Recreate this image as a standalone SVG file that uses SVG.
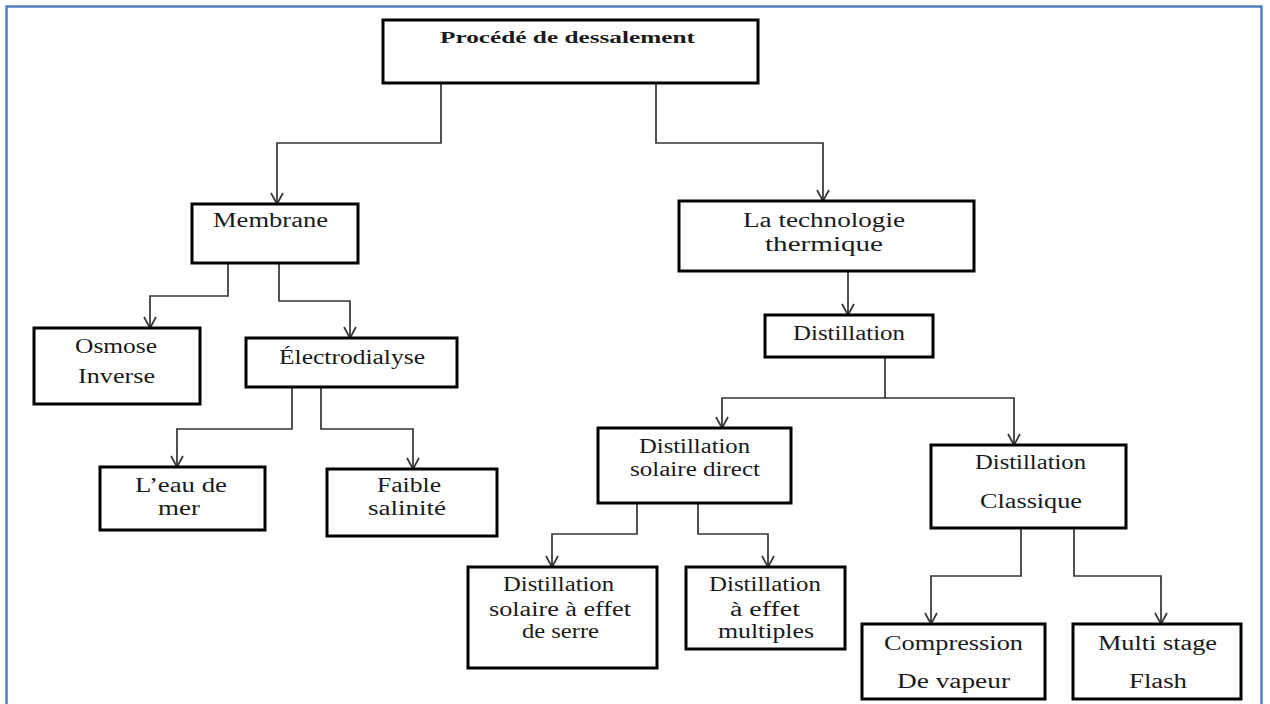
<svg xmlns="http://www.w3.org/2000/svg" width="1270" height="704" viewBox="0 0 1270 704">
<defs>
<style>
.box{fill:#fff;stroke:#000;stroke-width:3}
.t{font-family:"Liberation Serif","Times New Roman",serif;font-size:20px;fill:#1a1a1a}
.b{font-weight:bold;font-size:17.5px}
.c{fill:none;stroke:#333;stroke-width:1.7;marker-end:url(#arr)}
</style>
<marker id="arr" markerUnits="userSpaceOnUse" markerWidth="16" markerHeight="16" viewBox="0 0 16 16" refX="14" refY="8" orient="auto">
<path d="M3,2 L14,8 L3,14" fill="none" stroke="#333" stroke-width="1.7"/>
</marker>
</defs>
<rect x="0" y="0" width="1270" height="704" fill="#fff"/>
<rect x="6.5" y="6.5" width="1255" height="740" fill="none" stroke="#4f81bd" stroke-width="2.5"/>
<g id="connectors">
<path class="c" d="M441,83 V143 H277 V204"/>
<path class="c" d="M656,83 V143 H823 V201"/>
<path class="c" d="M228,263 V296 H150 V328"/>
<path class="c" d="M279,263 V301 H350 V338"/>
<path class="c" d="M292,387 V429 H177 V467"/>
<path class="c" d="M321,387 V429 H413 V469"/>
<path class="c" d="M848,271 V315"/>
<path class="c" d="M885,357 V398 H722 V428"/>
<path class="c" d="M885,398 H1014 V445"/>
<path class="c" d="M637,503 V534 H552 V567"/>
<path class="c" d="M698,503 V534 H768 V567"/>
<path class="c" d="M1021,528 V576 H931 V624"/>
<path class="c" d="M1074,528 V576 H1161 V624"/>
</g>
<g id="root">
<rect class="box" x="383" y="20" width="375" height="63"/>
<text class="t b" x="440" y="43" textLength="255" lengthAdjust="spacingAndGlyphs">Procédé de dessalement</text>
</g>
<g id="membrane">
<rect class="box" x="192" y="204" width="166" height="59"/>
<text class="t" x="213" y="227" textLength="115" lengthAdjust="spacingAndGlyphs">Membrane</text>
</g>
<g id="thermique">
<rect class="box" x="679" y="201" width="295" height="70"/>
<text class="t" x="743" y="227" textLength="162" lengthAdjust="spacingAndGlyphs">La technologie</text>
<text class="t" x="765" y="251" textLength="118" lengthAdjust="spacingAndGlyphs">thermique</text>
</g>
<g id="osmose">
<rect class="box" x="34" y="328" width="166" height="76"/>
<text class="t" x="75" y="353" textLength="82" lengthAdjust="spacingAndGlyphs">Osmose</text>
<text class="t" x="78" y="383" textLength="77" lengthAdjust="spacingAndGlyphs">Inverse</text>
</g>
<g id="electrodialyse">
<rect class="box" x="246" y="338" width="211" height="49"/>
<text class="t" x="279" y="364" textLength="146" lengthAdjust="spacingAndGlyphs">Électrodialyse</text>
</g>
<g id="eau-de-mer">
<rect class="box" x="100" y="467" width="165" height="63"/>
<text class="t" x="135" y="492" textLength="92" lengthAdjust="spacingAndGlyphs">L’eau de</text>
<text class="t" x="158" y="515" textLength="42" lengthAdjust="spacingAndGlyphs">mer</text>
</g>
<g id="faible-salinite">
<rect class="box" x="327" y="469" width="170" height="67"/>
<text class="t" x="377" y="492" textLength="64" lengthAdjust="spacingAndGlyphs">Faible</text>
<text class="t" x="368" y="515" textLength="78" lengthAdjust="spacingAndGlyphs">salinité</text>
</g>
<g id="distillation">
<rect class="box" x="765" y="315" width="168" height="42"/>
<text class="t" x="793" y="340" textLength="112" lengthAdjust="spacingAndGlyphs">Distillation</text>
</g>
<g id="solaire-direct">
<rect class="box" x="598" y="428" width="193" height="75"/>
<text class="t" x="639" y="453" textLength="111" lengthAdjust="spacingAndGlyphs">Distillation</text>
<text class="t" x="630" y="476" textLength="130" lengthAdjust="spacingAndGlyphs">solaire direct</text>
</g>
<g id="classique">
<rect class="box" x="931" y="445" width="195" height="83"/>
<text class="t" x="975" y="469" textLength="111" lengthAdjust="spacingAndGlyphs">Distillation</text>
<text class="t" x="980" y="508" textLength="102" lengthAdjust="spacingAndGlyphs">Classique</text>
</g>
<g id="effet-de-serre">
<rect class="box" x="468" y="567" width="189" height="101"/>
<text class="t" x="503" y="591" textLength="111" lengthAdjust="spacingAndGlyphs">Distillation</text>
<text class="t" x="489" y="616" textLength="142" lengthAdjust="spacingAndGlyphs">solaire à effet</text>
<text class="t" x="522" y="638" textLength="77" lengthAdjust="spacingAndGlyphs">de serre</text>
</g>
<g id="effet-multiples">
<rect class="box" x="686" y="567" width="159" height="82"/>
<text class="t" x="709" y="591" textLength="112" lengthAdjust="spacingAndGlyphs">Distillation</text>
<text class="t" x="730" y="616" textLength="70" lengthAdjust="spacingAndGlyphs">à effet</text>
<text class="t" x="718" y="638" textLength="96" lengthAdjust="spacingAndGlyphs">multiples</text>
</g>
<g id="compression">
<rect class="box" x="862" y="624" width="183" height="75"/>
<text class="t" x="884" y="650" textLength="139" lengthAdjust="spacingAndGlyphs">Compression</text>
<text class="t" x="897" y="688" textLength="113" lengthAdjust="spacingAndGlyphs">De vapeur</text>
</g>
<g id="multi-stage">
<rect class="box" x="1073" y="624" width="168" height="75"/>
<text class="t" x="1098" y="650" textLength="119" lengthAdjust="spacingAndGlyphs">Multi stage</text>
<text class="t" x="1129" y="688" textLength="58" lengthAdjust="spacingAndGlyphs">Flash</text>
</g>
</svg>
